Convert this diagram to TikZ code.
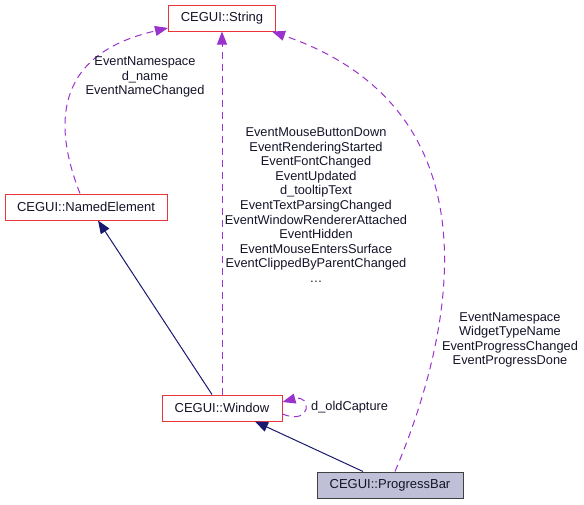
\documentclass[tikz,border=0pt]{standalone}
\usepackage{fontspec}
\setmainfont{Liberation Sans}
\usetikzlibrary{arrows.meta}
\definecolor{edgepurple}{HTML}{9A32CD}
\definecolor{edgenavy}{HTML}{191970}
\definecolor{boxred}{HTML}{E8343A}
\definecolor{txt}{HTML}{141428}
\definecolor{pbfill}{HTML}{BFBFD8}
\tikzset{
  cls/.style={draw=boxred, line width=1pt, fill=white, minimum height=26pt, inner xsep=5pt, font=\fontsize{13}{15}\selectfont, text=txt},
  cur/.style={draw=black!75, line width=1pt, fill=pbfill, minimum height=26pt, inner xsep=5pt, font=\fontsize{13}{15}\selectfont, text=txt},
  uses/.style={draw=edgepurple, dash pattern=on 7pt off 5pt, line width=1pt, -{Triangle[length=13pt,width=10pt,fill=edgepurple]}},
  inh/.style={draw=edgenavy, line width=1pt, -{Triangle[length=13pt,width=10pt,fill=edgenavy]}},
  lbl/.style={align=center, font=\fontsize{12.8}{14.6}\selectfont, text=txt, inner sep=0pt}
}
\begin{document}
\begin{tikzpicture}[x=1pt,y=-1pt]
\useasboundingbox (0,0) rectangle (584,504);
\node[cls, minimum width=107pt] (str) at (222,18) {CEGUI::String};
\node[cls, minimum width=162pt] (ne) at (86,207) {CEGUI::NamedElement};
\node[cls, minimum width=120pt] (win) at (222,408) {CEGUI::Window};
\node[cur, minimum width=146pt] (pb) at (390,485) {CEGUI::ProgressBar};
% inheritance
\draw[inh] ([xshift=-10pt]win.north) -- ([xshift=12pt]ne.south);
\draw[inh] ([xshift=-27pt]pb.north) -- ([xshift=33pt]win.south);
% uses
\draw[uses] ([xshift=-6pt]ne.north) .. controls (55,130) and (50,55) .. ([yshift=-10pt]str.west);
\draw[uses] (win.north) -- (str.south);
\draw[uses] ([xshift=5pt]pb.north) .. controls (455,330) and (500,110) .. ([xshift=-4pt]str.south east);
\draw[uses] ([yshift=-6pt]win.east) .. controls (312,426) and (312,394) .. ([yshift=6pt]win.east);
% labels
\node[lbl] (l1) at (145,77) {EventNamespace\\d\_name\\EventNameChanged};
\node[lbl] (l2) at (316,205) {EventMouseButtonDown\\EventRenderingStarted\\EventFontChanged\\EventUpdated\\d\_tooltipText\\EventTextParsingChanged\\EventWindowRendererAttached\\EventHidden\\EventMouseEntersSurface\\EventClippedByParentChanged\\\ldots};
\node[lbl] (l3) at (510,340) {EventNamespace\\WidgetTypeName\\EventProgressChanged\\EventProgressDone};
\node[lbl, anchor=west] (l4) at (311,407) {d\_oldCapture};
\end{tikzpicture}
\end{document}
